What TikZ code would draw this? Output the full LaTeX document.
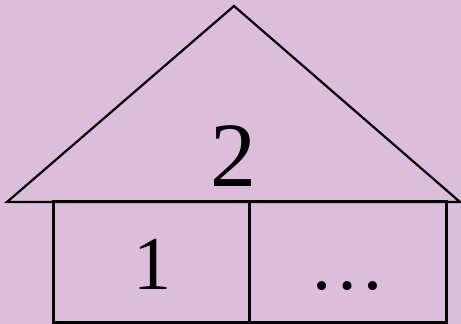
\documentclass[tikz,border=0pt]{standalone}
\usepackage{fontspec}
\setmainfont{Liberation Serif}
\definecolor{bgpurple}{RGB}{220,190,220}
\begin{document}
\begin{tikzpicture}[x=1pt,y=1pt,
  outline/.style={draw=black,line width=2.2pt,line join=miter},
  boxline/.style={outline,line width=3pt},
  numtext/.style={inner sep=0pt,anchor=base}]
\fill[bgpurple] (0,0) rectangle (461,324);
\useasboundingbox (0,0) rectangle (461,324);
\coordinate (tl) at (7,122);
\coordinate (tr) at (460,122);
\coordinate (apex) at (234,318);
\coordinate (rbl) at (53,1.5);
\coordinate (rtr) at (446,122);
\coordinate (dtop) at (249,122);
\coordinate (dbot) at (249,1.5);
\draw[outline] (tl) -- (apex) -- (tr) -- cycle;
\draw[boxline] (rbl) rectangle (rtr);
\draw[boxline] (dtop) -- (dbot);
\node[numtext,font=\fontsize{92}{92}\selectfont] (two) at (233.5,137) {2};
\node[numtext,font=\fontsize{76}{76}\selectfont] (one) at (152,34) {1};
\node[numtext,font=\fontsize{76}{76}\selectfont] (dots) at (347,34) {…};
\end{tikzpicture}
\end{document}
